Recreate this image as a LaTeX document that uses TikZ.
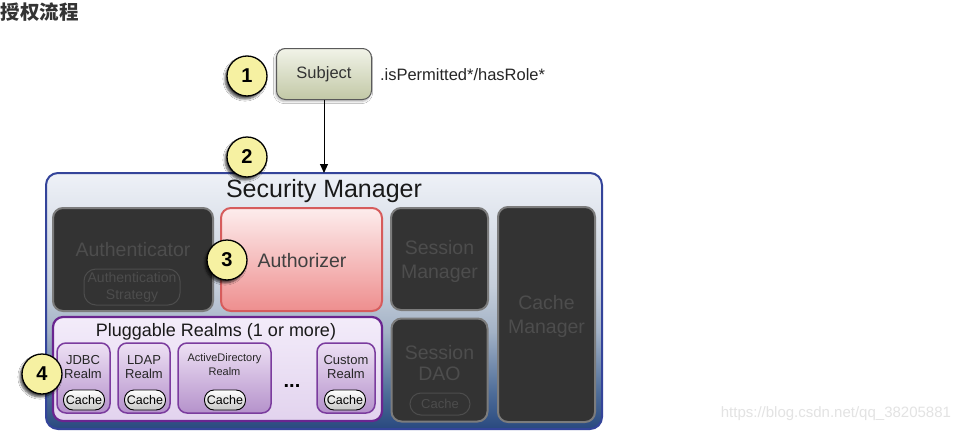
\documentclass[tikz,border=0pt]{standalone}
\usepackage{fontspec}
\setmainfont{Liberation Sans}
\newfontfamily\cjk{Noto Sans CJK SC}
\usetikzlibrary{shadows.blur,arrows.meta}
\definecolor{smborder}{HTML}{34449A}
\definecolor{smtop}{HTML}{EEF1F7}
\definecolor{smmid}{HTML}{C6CFDB}
\definecolor{smlow}{HTML}{A3B2C6}
\definecolor{smdeep}{HTML}{4D6C98}
\definecolor{smbot}{HTML}{29497F}
\definecolor{darkfill}{HTML}{333333}
\definecolor{darkborder}{HTML}{7C7C7C}
\definecolor{dktext}{HTML}{4D4D4D}
\definecolor{authborder}{HTML}{D65C5C}
\definecolor{authtop}{HTML}{FDEDED}
\definecolor{authbot}{HTML}{EE8E8E}
\definecolor{plugborder}{HTML}{6A2590}
\definecolor{plugtop}{HTML}{F3ECFA}
\definecolor{plugbot}{HTML}{E2D3EE}
\definecolor{realmborder}{HTML}{7B3C9E}
\definecolor{realmtop}{HTML}{EDE0F4}
\definecolor{realmbot}{HTML}{B592CB}
\definecolor{subjborder}{HTML}{5A5A5A}
\definecolor{subjtop}{HTML}{F1F3E8}
\definecolor{subjbot}{HTML}{C2C8A6}
\definecolor{circfill}{HTML}{F6F1A2}
\definecolor{titlecol}{HTML}{333333}
\definecolor{wmark}{HTML}{E3E3E3}
\pgfdeclareverticalshading{smshade}{100bp}{color(0bp)=(smbot); color(25bp)=(smbot); color(32bp)=(smdeep); color(44bp)=(smlow); color(53bp)=(smmid); color(75bp)=(smtop); color(100bp)=(smtop)}
\begin{document}
\begin{tikzpicture}[x=1pt,y=-1pt,
  every node/.style={inner sep=0pt, outer sep=0pt},
  num/.style={circle, draw=black, line width=1.3pt, fill=circfill, minimum size=40pt,
    font=\fontsize{20}{20}\selectfont\bfseries,
    blur shadow={shadow xshift=-2pt, shadow yshift=-3pt, shadow blur steps=6, shadow opacity=70}},
  darkbox/.style={draw=darkborder, line width=2pt, fill=darkfill, rounded corners=10pt},
  dklabel/.style={text=dktext, font=\fontsize{19.5}{24}\selectfont, align=center},
  realmbox/.style={draw=realmborder, line width=1.5pt, top color=realmtop, bottom color=realmbot, rounded corners=9pt, minimum height=70pt},
  realmlabel/.style={font=\fontsize{13}{14}\selectfont, align=center, text=black!85},
  cachepill/.style={draw=black, line width=0.9pt, top color=white, bottom color=black!22, rounded corners=9.5pt, minimum height=20pt, minimum width=41pt, font=\fontsize{12.5}{13}\selectfont}
]
\useasboundingbox (0,0) rectangle (959,434);
\fill[white] (0,0) rectangle (959,434);

% title
\node[anchor=west, font=\cjk\bfseries\fontsize{19.5}{20}\selectfont, text=titlecol] (title) at (1,12) {授权流程};

% subject
\node[draw=subjborder, line width=1pt, top color=subjtop, bottom color=subjbot, rounded corners=9pt,
  minimum width=95pt, minimum height=51pt, font=\fontsize{16.5}{17}\selectfont, text=black!80,
  blur shadow={shadow xshift=-1pt, shadow yshift=-2pt, shadow blur steps=4, shadow opacity=30}] (subject) at (324,74) {Subject};
\node[anchor=west, font=\fontsize{16.5}{17}\selectfont, text=black!85] (call) at (380,75) {.isPermitted*/hasRole*};

% security manager
\node[draw=smborder, line width=2pt, shading=smshade, rounded corners=12pt,
  minimum width=556pt, minimum height=256pt] (sm) at (324,301) {};
\node[font=\fontsize{25}{26}\selectfont, text=black!90] (smtitle) at (324,191) {Security Manager};

\draw[line width=1pt, -{Triangle[length=9pt,width=8pt]}] (subject.south) -- (sm.north);

% authenticator
\node[darkbox, minimum width=160pt, minimum height=103pt] (authc) at (133,259.5) {};
\node[dklabel] (authctext) at (133,250) {Authenticator};
\node[draw=dktext, line width=1pt, rounded corners=12pt, minimum width=96pt, minimum height=36pt,
  text=dktext, font=\fontsize{14}{17}\selectfont, align=center] (strategy) at (132,287) {Authentication\\Strategy};

% authorizer
\node[draw=authborder, line width=2pt, top color=authtop, bottom color=authbot, rounded corners=10pt,
  minimum width=161pt, minimum height=103pt, font=\fontsize{19.5}{20}\selectfont, text=black!75] (authz) at (301.5,259.5) {};
\node[font=\fontsize{19.5}{20}\selectfont, text=black!75] (authztext) at (302,261) {Authorizer};

% session manager
\node[darkbox, minimum width=97pt, minimum height=102pt] (sessmgr) at (439.5,259) {};
\node[dklabel] (sessmgrtext) at (439.5,261) {Session\\Manager};

% session dao
\node[darkbox, minimum width=96pt, minimum height=103pt] (sessdao) at (439.5,370) {};
\node[dklabel, font=\fontsize{19.5}{21.5}\selectfont] (sessdaotext) at (439.5,363) {Session\\DAO};
\node[draw=dktext, line width=1pt, rounded corners=11pt, minimum width=60pt, minimum height=22pt,
  text=dktext, font=\fontsize{13}{14}\selectfont] (daocache) at (440,404) {Cache};

% cache manager
\node[darkbox, minimum width=97pt, minimum height=215pt] (cachemgr) at (546.5,314.5) {};
\node[dklabel] (cachemgrtext) at (546.5,316) {Cache\\Manager};

% pluggable realms
\node[draw=plugborder, line width=2.2pt, top color=plugtop, bottom color=plugbot, rounded corners=10pt,
  minimum width=329pt, minimum height=104pt] (plug) at (217.5,369) {};
\node[font=\fontsize{18}{19}\selectfont, text=black!90] (plugtitle) at (216,332) {Pluggable Realms (1 or more)};

\node[realmbox, minimum width=53pt] (jdbc) at (83.5,378) {};
\node[realmlabel] (jdbctext) at (83,367) {JDBC\\Realm};
\node[cachepill] (jdbccache) at (84,400) {Cache};

\node[realmbox, minimum width=52pt] (ldap) at (144,378) {};
\node[realmlabel] (ldaptext) at (144,367) {LDAP\\Realm};
\node[cachepill] (ldapcache) at (145,400) {Cache};

\node[realmbox, minimum width=93pt] (ad) at (224.5,378) {};
\node[realmlabel, font=\fontsize{11}{14}\selectfont] (adtext) at (224.5,365) {ActiveDirectory\\Realm};
\node[cachepill] (adcache) at (225,400) {Cache};

\node[font=\fontsize{20}{20}\selectfont\bfseries] (dots) at (292,386) {...};

\node[realmbox, minimum width=58pt] (custom) at (346,378) {};
\node[realmlabel] (customtext) at (346,367) {Custom\\Realm};
\node[cachepill] (customcache) at (345,400) {Cache};

% numbered circles
\node[num] (n1) at (247,76) {1};
\node[num] (n2) at (247,157) {2};
\node[num] (n3) at (227,260) {3};
\node[num] (n4) at (42,374) {4};

% watermark
\node[anchor=east, font=\fontsize{15}{16}\selectfont, text=wmark] (wm) at (951,414) {https://blog.csdn.net/qq\_38205881};
\end{tikzpicture}
\end{document}
